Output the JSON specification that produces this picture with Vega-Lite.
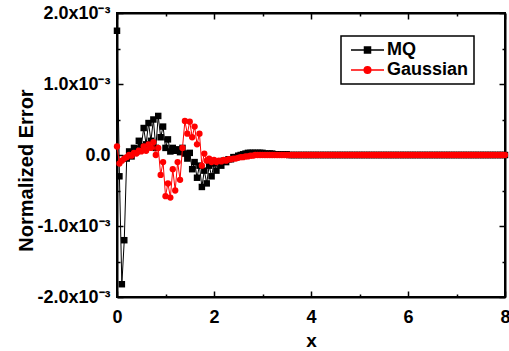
{
"$schema": "https://vega.github.io/schema/vega-lite/v6.json",
"width": 388,
"height": 284,
"autosize": "none",
"padding": {"left": 117, "top": 13, "right": 4, "bottom": 54},
"background": "white",
"config": {"view": {"stroke": "black", "strokeWidth": 2}, "font": "Liberation Sans", "legend": {"strokeWidth": 1.5}},
"data": {"values": [
{"x":0,"MQ":1.75,"Gaussian":0.12},
{"x":0.05,"MQ":-0.3,"Gaussian":-0.12},
{"x":0.1,"MQ":-1.82,"Gaussian":-0.08},
{"x":0.15,"MQ":-1.2,"Gaussian":-0.05},
{"x":0.2,"MQ":-0.05,"Gaussian":-0.03},
{"x":0.25,"MQ":0.05,"Gaussian":0},
{"x":0.3,"MQ":-0.02,"Gaussian":-0.01},
{"x":0.35,"MQ":0.1,"Gaussian":0.03},
{"x":0.4,"MQ":0.05,"Gaussian":0.02},
{"x":0.45,"MQ":0.2,"Gaussian":0.06},
{"x":0.5,"MQ":0.12,"Gaussian":0.05},
{"x":0.55,"MQ":0.38,"Gaussian":0.12},
{"x":0.6,"MQ":0.15,"Gaussian":0.06},
{"x":0.65,"MQ":0.45,"Gaussian":0.15},
{"x":0.7,"MQ":0.2,"Gaussian":0.1},
{"x":0.75,"MQ":0.5,"Gaussian":0.18},
{"x":0.8,"MQ":0.1,"Gaussian":0},
{"x":0.85,"MQ":0.55,"Gaussian":0.1},
{"x":0.9,"MQ":0.25,"Gaussian":-0.28},
{"x":0.95,"MQ":0.4,"Gaussian":-0.1},
{"x":1,"MQ":0.1,"Gaussian":-0.58},
{"x":1.05,"MQ":0.22,"Gaussian":-0.4},
{"x":1.1,"MQ":0.05,"Gaussian":-0.6},
{"x":1.15,"MQ":0.1,"Gaussian":-0.2},
{"x":1.2,"MQ":0.06,"Gaussian":-0.5},
{"x":1.25,"MQ":0.08,"Gaussian":-0.1},
{"x":1.3,"MQ":0.04,"Gaussian":-0.35},
{"x":1.35,"MQ":0.1,"Gaussian":0.1},
{"x":1.4,"MQ":0.02,"Gaussian":0.48},
{"x":1.45,"MQ":-0.05,"Gaussian":0.3},
{"x":1.5,"MQ":0.03,"Gaussian":0.47},
{"x":1.55,"MQ":-0.2,"Gaussian":0.25},
{"x":1.6,"MQ":-0.1,"Gaussian":0.4},
{"x":1.65,"MQ":-0.32,"Gaussian":0.15},
{"x":1.7,"MQ":-0.15,"Gaussian":0.3},
{"x":1.75,"MQ":-0.45,"Gaussian":-0.15},
{"x":1.8,"MQ":-0.22,"Gaussian":0.02},
{"x":1.85,"MQ":-0.4,"Gaussian":-0.08},
{"x":1.9,"MQ":-0.15,"Gaussian":-0.05},
{"x":1.95,"MQ":-0.3,"Gaussian":-0.1},
{"x":2,"MQ":-0.12,"Gaussian":-0.07},
{"x":2.05,"MQ":-0.22,"Gaussian":-0.1},
{"x":2.1,"MQ":-0.1,"Gaussian":-0.08},
{"x":2.15,"MQ":-0.15,"Gaussian":-0.09},
{"x":2.2,"MQ":-0.08,"Gaussian":-0.07},
{"x":2.25,"MQ":-0.1,"Gaussian":-0.08},
{"x":2.3,"MQ":-0.06,"Gaussian":-0.06},
{"x":2.35,"MQ":-0.06,"Gaussian":-0.06},
{"x":2.4,"MQ":-0.03,"Gaussian":-0.05},
{"x":2.45,"MQ":-0.03,"Gaussian":-0.05},
{"x":2.5,"MQ":-0.01,"Gaussian":-0.04},
{"x":2.55,"MQ":0,"Gaussian":-0.03},
{"x":2.6,"MQ":0.01,"Gaussian":-0.03},
{"x":2.65,"MQ":0.02,"Gaussian":-0.02},
{"x":2.7,"MQ":0.03,"Gaussian":-0.02},
{"x":2.75,"MQ":0.03,"Gaussian":-0.01},
{"x":2.8,"MQ":0.03,"Gaussian":-0.01},
{"x":2.85,"MQ":0.03,"Gaussian":0},
{"x":2.9,"MQ":0.03,"Gaussian":0},
{"x":2.95,"MQ":0.03,"Gaussian":0},
{"x":3,"MQ":0.03,"Gaussian":0},
{"x":3.05,"MQ":0.02,"Gaussian":0},
{"x":3.1,"MQ":0.02,"Gaussian":0},
{"x":3.15,"MQ":0.02,"Gaussian":0},
{"x":3.2,"MQ":0.02,"Gaussian":0},
{"x":3.25,"MQ":0.01,"Gaussian":0},
{"x":3.3,"MQ":0.01,"Gaussian":0},
{"x":3.35,"MQ":0.01,"Gaussian":0},
{"x":3.4,"MQ":0.01,"Gaussian":0},
{"x":3.45,"MQ":0.01,"Gaussian":0},
{"x":3.5,"MQ":0.01,"Gaussian":0},
{"x":3.55,"MQ":0,"Gaussian":0},
{"x":3.6,"MQ":0,"Gaussian":0},
{"x":3.65,"MQ":0,"Gaussian":0},
{"x":3.7,"MQ":0,"Gaussian":0},
{"x":3.75,"MQ":0,"Gaussian":0},
{"x":3.8,"MQ":0,"Gaussian":0},
{"x":3.85,"MQ":0,"Gaussian":0},
{"x":3.9,"MQ":0,"Gaussian":0},
{"x":3.95,"MQ":0,"Gaussian":0},
{"x":4,"MQ":0,"Gaussian":0},
{"x":4.05,"MQ":0,"Gaussian":0},
{"x":4.1,"MQ":0,"Gaussian":0},
{"x":4.15,"MQ":0,"Gaussian":0},
{"x":4.2,"MQ":0,"Gaussian":0},
{"x":4.25,"MQ":0,"Gaussian":0},
{"x":4.3,"MQ":0,"Gaussian":0},
{"x":4.35,"MQ":0,"Gaussian":0},
{"x":4.4,"MQ":0,"Gaussian":0},
{"x":4.45,"MQ":0,"Gaussian":0},
{"x":4.5,"MQ":0,"Gaussian":0},
{"x":4.55,"MQ":0,"Gaussian":0},
{"x":4.6,"MQ":0,"Gaussian":0},
{"x":4.65,"MQ":0,"Gaussian":0},
{"x":4.7,"MQ":0,"Gaussian":0},
{"x":4.75,"MQ":0,"Gaussian":0},
{"x":4.8,"MQ":0,"Gaussian":0},
{"x":4.85,"MQ":0,"Gaussian":0},
{"x":4.9,"MQ":0,"Gaussian":0},
{"x":4.95,"MQ":0,"Gaussian":0},
{"x":5,"MQ":0,"Gaussian":0},
{"x":5.05,"MQ":0,"Gaussian":0},
{"x":5.1,"MQ":0,"Gaussian":0},
{"x":5.15,"MQ":0,"Gaussian":0},
{"x":5.2,"MQ":0,"Gaussian":0},
{"x":5.25,"MQ":0,"Gaussian":0},
{"x":5.3,"MQ":0,"Gaussian":0},
{"x":5.35,"MQ":0,"Gaussian":0},
{"x":5.4,"MQ":0,"Gaussian":0},
{"x":5.45,"MQ":0,"Gaussian":0},
{"x":5.5,"MQ":0,"Gaussian":0},
{"x":5.55,"MQ":0,"Gaussian":0},
{"x":5.6,"MQ":0,"Gaussian":0},
{"x":5.65,"MQ":0,"Gaussian":0},
{"x":5.7,"MQ":0,"Gaussian":0},
{"x":5.75,"MQ":0,"Gaussian":0},
{"x":5.8,"MQ":0,"Gaussian":0},
{"x":5.85,"MQ":0,"Gaussian":0},
{"x":5.9,"MQ":0,"Gaussian":0},
{"x":5.95,"MQ":0,"Gaussian":0},
{"x":6,"MQ":0,"Gaussian":0},
{"x":6.05,"MQ":0,"Gaussian":0},
{"x":6.1,"MQ":0,"Gaussian":0},
{"x":6.15,"MQ":0,"Gaussian":0},
{"x":6.2,"MQ":0,"Gaussian":0},
{"x":6.25,"MQ":0,"Gaussian":0},
{"x":6.3,"MQ":0,"Gaussian":0},
{"x":6.35,"MQ":0,"Gaussian":0},
{"x":6.4,"MQ":0,"Gaussian":0},
{"x":6.45,"MQ":0,"Gaussian":0},
{"x":6.5,"MQ":0,"Gaussian":0},
{"x":6.55,"MQ":0,"Gaussian":0},
{"x":6.6,"MQ":0,"Gaussian":0},
{"x":6.65,"MQ":0,"Gaussian":0},
{"x":6.7,"MQ":0,"Gaussian":0},
{"x":6.75,"MQ":0,"Gaussian":0},
{"x":6.8,"MQ":0,"Gaussian":0},
{"x":6.85,"MQ":0,"Gaussian":0},
{"x":6.9,"MQ":0,"Gaussian":0},
{"x":6.95,"MQ":0,"Gaussian":0},
{"x":7,"MQ":0,"Gaussian":0},
{"x":7.05,"MQ":0,"Gaussian":0},
{"x":7.1,"MQ":0,"Gaussian":0},
{"x":7.15,"MQ":0,"Gaussian":0},
{"x":7.2,"MQ":0,"Gaussian":0},
{"x":7.25,"MQ":0,"Gaussian":0},
{"x":7.3,"MQ":0,"Gaussian":0},
{"x":7.35,"MQ":0,"Gaussian":0},
{"x":7.4,"MQ":0,"Gaussian":0},
{"x":7.45,"MQ":0,"Gaussian":0},
{"x":7.5,"MQ":0,"Gaussian":0},
{"x":7.55,"MQ":0,"Gaussian":0},
{"x":7.6,"MQ":0,"Gaussian":0},
{"x":7.65,"MQ":0,"Gaussian":0},
{"x":7.7,"MQ":0,"Gaussian":0},
{"x":7.75,"MQ":0,"Gaussian":0},
{"x":7.8,"MQ":0,"Gaussian":0},
{"x":7.85,"MQ":0,"Gaussian":0},
{"x":7.9,"MQ":0,"Gaussian":0},
{"x":7.95,"MQ":0,"Gaussian":0},
{"x":8,"MQ":0,"Gaussian":0}
]},
"transform": [{"fold": ["MQ", "Gaussian"], "as": ["series", "value"]}],
"resolve": {"axis": {"x": "independent", "y": "independent"}},
"layer": [
{
"transform": [{"filter": "datum.series == 'MQ'"}],
"mark": {"type": "line", "color": "black", "strokeWidth": 1},
"encoding": {
"x": {"field": "x", "type": "quantitative", "scale": {"domain": [0, 8], "nice": false, "zero": false},
"axis": {"orient": "bottom", "title": "x", "values": [0,1,2,3,4,5,6,7,8], "labelExpr": "datum.value % 2 == 0 ? datum.label : ''", "grid": false, "domainColor": "black", "domainWidth": 2, "tickColor": "black", "tickWidth": 1.5, "tickSize": {"condition": {"test": "datum.value % 2 == 0", "value": -6}, "value": -3}, "labelFont": "Liberation Sans", "labelFontWeight": "bold", "labelFontSize": 18, "labelColor": "black", "labelPadding": 17, "labelFlush": false, "labelOverlap": false, "titleFont": "Liberation Sans", "titleFontWeight": "bold", "titleFontSize": 19, "titleColor": "black", "titlePadding": 2}},
"y": {"field": "value", "type": "quantitative", "scale": {"domain": [-2, 2], "nice": false, "zero": false},
"axis": {"orient": "left", "title": "Normalized Error", "values": [-2,-1.5,-1,-0.5,0,0.5,1,1.5,2], "labelExpr": "datum.value == 0 ? '0.0' : (datum.value % 1 != 0 ? '' : (datum.value < 0 ? '-' : '') + format(abs(datum.value), '.1f') + 'x10⁻³')", "grid": false, "domainColor": "black", "domainWidth": 2, "tickColor": "black", "tickWidth": 1.5, "tickSize": {"condition": {"test": "datum.value % 1 == 0", "value": -6}, "value": -3}, "labelFont": "Liberation Sans", "labelFontWeight": "bold", "labelFontSize": 18, "labelColor": "black", "labelPadding": 13, "labelOverlap": false, "titleFont": "Liberation Sans", "titleFontWeight": "bold", "titleFontSize": 20, "titleColor": "black", "titleAngle": 270, "titleBaseline": "alphabetic", "titleX": -85, "titleY": 157}}
}
},
{
"transform": [{"filter": "datum.series == 'MQ'"}],
"mark": {"type": "point", "shape": "square", "filled": true, "color": "black", "size": 42, "opacity": 1},
"encoding": {
"x": {"field": "x", "type": "quantitative", "scale": {"domain": [0, 8], "nice": false, "zero": false}, "axis": null},
"y": {"field": "value", "type": "quantitative", "scale": {"domain": [-2, 2], "nice": false, "zero": false}, "axis": null}
}
},
{
"transform": [{"filter": "datum.series == 'Gaussian'"}],
"mark": {"type": "line", "color": "red", "strokeWidth": 1},
"encoding": {
"x": {"field": "x", "type": "quantitative", "scale": {"domain": [0, 8], "nice": false, "zero": false}, "axis": null},
"y": {"field": "value", "type": "quantitative", "scale": {"domain": [-2, 2], "nice": false, "zero": false}, "axis": null}
}
},
{
"transform": [{"filter": "datum.series == 'Gaussian'"}],
"mark": {"type": "point", "shape": "circle", "filled": true, "color": "red", "size": 40, "opacity": 1},
"encoding": {
"x": {"field": "x", "type": "quantitative", "scale": {"domain": [0, 8], "nice": false, "zero": false}, "axis": null},
"y": {"field": "value", "type": "quantitative", "scale": {"domain": [-2, 2], "nice": false, "zero": false}, "axis": null}
}
},
{
"transform": [{"filter": "datum.x < 0"}],
"mark": {"type": "point", "filled": false, "opacity": 1, "strokeWidth": 1.5},
"encoding": {
"x": {"field": "x", "type": "quantitative", "scale": {"domain": [0, 8], "nice": false, "zero": false},
"axis": {"orient": "top", "title": null, "labels": false, "values": [0,1,2,3,4,5,6,7,8], "grid": false, "domainColor": "black", "domainWidth": 2, "tickColor": "black", "tickWidth": 1.5, "tickSize": {"condition": {"test": "datum.value % 2 == 0", "value": -6}, "value": -3}}},
"y": {"field": "value", "type": "quantitative", "scale": {"domain": [-2, 2], "nice": false, "zero": false},
"axis": {"orient": "right", "title": null, "labels": false, "values": [-2,-1.5,-1,-0.5,0,0.5,1,1.5,2], "grid": false, "domainColor": "black", "domainWidth": 2, "tickColor": "black", "tickWidth": 1.5, "tickSize": {"condition": {"test": "datum.value % 1 == 0", "value": -6}, "value": -3}}},
"color": {"field": "series", "type": "nominal", "scale": {"domain": ["MQ", "Gaussian"], "range": ["black", "red"]},
"legend": {"title": null, "orient": "none", "legendX": 224, "legendY": 23, "strokeColor": "black", "fillColor": "white", "padding": 5, "symbolSize": 196, "labelOffset": 23, "labelFont": "Liberation Sans", "labelFontWeight": "bold", "labelFontSize": 18, "labelColor": "black", "labelLimit": 200, "rowPadding": 2}},
"shape": {"field": "series", "type": "nominal", "scale": {"domain": ["MQ", "Gaussian"], "range": ["M-0.571,0H4.143M1.356,-0.43H2.216V0.43H1.356ZM1.5,-0.29H2.07V0.29H1.5ZM1.64,-0.14H1.93V0.14H1.64Z", "M-0.571,0H4.143M2.256,0A0.47,0.47 0 1,1 1.316,0A0.47,0.47 0 1,1 2.256,0ZM2.086,0A0.3,0.3 0 1,1 1.486,0A0.3,0.3 0 1,1 2.086,0ZM1.916,0A0.13,0.13 0 1,1 1.656,0A0.13,0.13 0 1,1 1.916,0Z"]},
"legend": {"title": null, "orient": "none", "legendX": 224, "legendY": 23, "strokeColor": "black", "fillColor": "white", "padding": 5, "symbolSize": 196, "labelOffset": 23, "labelFont": "Liberation Sans", "labelFontWeight": "bold", "labelFontSize": 18, "labelColor": "black", "labelLimit": 200, "rowPadding": 2}}
}
}
]
}
